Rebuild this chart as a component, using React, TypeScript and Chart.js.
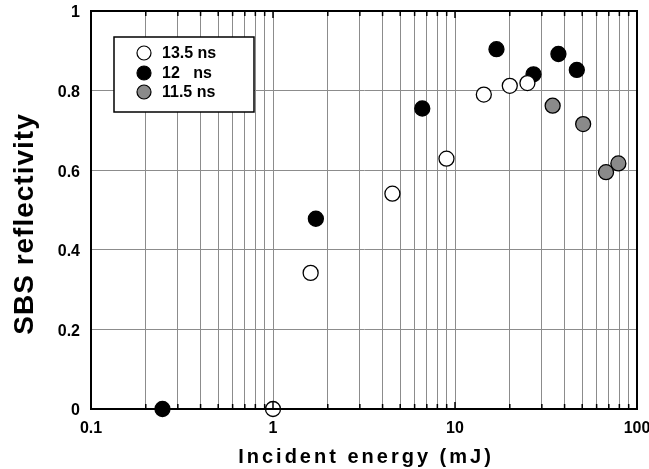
import React, { useEffect, useRef } from "react";
import { Chart, registerables } from "chart.js";

Chart.register(...registerables);

const seriesLabels = ["13.5 ns", "12   ns", "11.5 ns"];

const open135X = [1.0, 1.61, 4.53, 8.98, 14.4, 20.0, 25.0];
const open135Y = [0.0, 0.342, 0.541, 0.629, 0.79, 0.812, 0.819];

const black12X = [0.247, 1.72, 6.61, 16.9, 27.0, 37.0, 46.7];
const black12Y = [0.0, 0.478, 0.755, 0.904, 0.841, 0.892, 0.852];

const gray115X = [34.4, 50.6, 67.6, 79.0];
const gray115Y = [0.762, 0.716, 0.595, 0.617];

const yTicks = [0, 0.2, 0.4, 0.6, 0.8, 1];
const xDecades = [0.1, 1, 10, 100];

const FONT = '"Liberation Sans", Arial, Helvetica, sans-serif';

const fills = ["#ffffff", "#000000", "#8a8a8a"];

function pts(xs: number[], ys: number[]) {
  return xs.map((x, i) => ({ x, y: ys[i] }));
}

function logTicks(): number[] {
  const out: number[] = [];
  for (let d = 0; d < xDecades.length - 1; d++) {
    for (let m = 1; m < 10; m++) {
      out.push(parseFloat((xDecades[d] * m).toPrecision(3)));
    }
  }
  out.push(xDecades[xDecades.length - 1]);
  return out;
}

const decorPlugin = {
  id: "decor",
  afterDatasetsDraw(chart: any) {
    const { ctx, chartArea } = chart;
    const xs = chart.scales.x;
    ctx.save();
    ctx.strokeStyle = "#000";
    ctx.lineWidth = 1.5;
    xs.ticks.forEach((t: any) => {
      const px = xs.getPixelForValue(t.value);
      const isMajor = xDecades.includes(t.value);
      const len = isMajor ? 7 : 5;
      ctx.beginPath();
      ctx.moveTo(px, chartArea.top);
      ctx.lineTo(px, chartArea.top + len);
      ctx.moveTo(px, chartArea.bottom);
      ctx.lineTo(px, chartArea.bottom - len);
      ctx.stroke();
    });
    ctx.lineWidth = 2;
    ctx.strokeRect(chartArea.left, chartArea.top, chartArea.right - chartArea.left, chartArea.bottom - chartArea.top);

    const lx = 114, ly = 37, lw = 140, lh = 75;
    ctx.fillStyle = "#fff";
    ctx.fillRect(lx, ly, lw, lh);
    ctx.lineWidth = 1.5;
    ctx.strokeRect(lx, ly, lw, lh);
    const rows = [53, 73, 92];
    chart.data.datasets.forEach((ds: any, i: number) => {
      ctx.beginPath();
      ctx.arc(144, rows[i], 7, 0, Math.PI * 2);
      ctx.fillStyle = ds.pointBackgroundColor;
      ctx.fill();
      ctx.lineWidth = 1.2;
      ctx.strokeStyle = "#000";
      ctx.stroke();
      ctx.fillStyle = "#000";
      ctx.font = `bold 16px ${FONT}`;
      ctx.textAlign = "left";
      ctx.textBaseline = "middle";
      ctx.fillText(ds.label, 162, rows[i] + 1);
    });

    ctx.fillStyle = "#000";
    ctx.font = `bold 20px ${FONT}`;
    (ctx as any).letterSpacing = "3px";
    ctx.textAlign = "center";
    ctx.textBaseline = "alphabetic";
    ctx.fillText("Incident energy (mJ)", 366, 463);

    ctx.save();
    ctx.translate(33, 224);
    ctx.rotate(-Math.PI / 2);
    ctx.font = `bold 28px ${FONT}`;
    (ctx as any).letterSpacing = "1px";
    ctx.textAlign = "center";
    ctx.textBaseline = "alphabetic";
    ctx.fillText("SBS reflectivity", 0, 0);
    ctx.restore();
    (ctx as any).letterSpacing = "0px";
    ctx.restore();
  },
};

export default function App() {
  const ref = useRef<HTMLCanvasElement>(null);
  useEffect(() => {
    document.body.style.margin = "0";
    const ds = [
      { label: seriesLabels[0], data: pts(open135X, open135Y) },
      { label: seriesLabels[1], data: pts(black12X, black12Y) },
      { label: seriesLabels[2], data: pts(gray115X, gray115Y) },
    ].map((d, i) => ({
      ...d,
      pointBackgroundColor: fills[i],
      pointBorderColor: "#000",
      pointBorderWidth: 1.3,
      pointRadius: 7.5,
      showLine: false,
      clip: false as any,
    }));
    const chart = new Chart(ref.current!, {
      type: "scatter",
      data: { datasets: ds as any },
      options: {
        responsive: false,
        animation: false,
        layout: { padding: { left: 0, right: 12, top: 11, bottom: 0 } },
        plugins: { legend: { display: false }, tooltip: { enabled: false } },
        scales: {
          x: {
            type: "logarithmic",
            min: 0.1,
            max: 100,
            afterBuildTicks: (s: any) => {
              s.ticks = logTicks().map((v) => ({ value: v }));
            },
            afterFit: (s: any) => {
              s.height = 60;
              s.paddingRight = 0;
              s.paddingLeft = 0;
            },
            ticks: {
              autoSkip: false,
              maxRotation: 0,
              padding: 10,
              color: "#000",
              font: { family: FONT, size: 16, weight: "bold" },
              callback: (v: any) => {
                const n = Number(v);
                return xDecades.includes(n) ? String(n) : "";
              },
            },
            grid: { color: "#8c8c8c", lineWidth: 1, drawTicks: false },
            border: { display: true, color: "#000", width: 2 },
          },
          y: {
            min: 0,
            max: 1,
            afterBuildTicks: (s: any) => {
              s.ticks = yTicks.map((v) => ({ value: v }));
            },
            afterFit: (s: any) => {
              s.width = 91;
              s.paddingTop = 0;
              s.paddingBottom = 0;
            },
            ticks: {
              padding: 11,
              labelOffset: 2,
              color: "#000",
              font: { family: FONT, size: 16, weight: "bold" },
              callback: (v: any) => String(Number(v)),
            },
            grid: { color: "#8c8c8c", lineWidth: 1, drawTicks: false },
            border: { display: true, color: "#000", width: 2 },
          },
        },
      },
      plugins: [decorPlugin],
    });
    return () => chart.destroy();
  }, []);
  return (
    <div style={{ position: "absolute", left: 0, top: 0, width: 649, height: 469, background: "#fff" }}>
      <canvas ref={ref} width={649} height={469} />
    </div>
  );
}
